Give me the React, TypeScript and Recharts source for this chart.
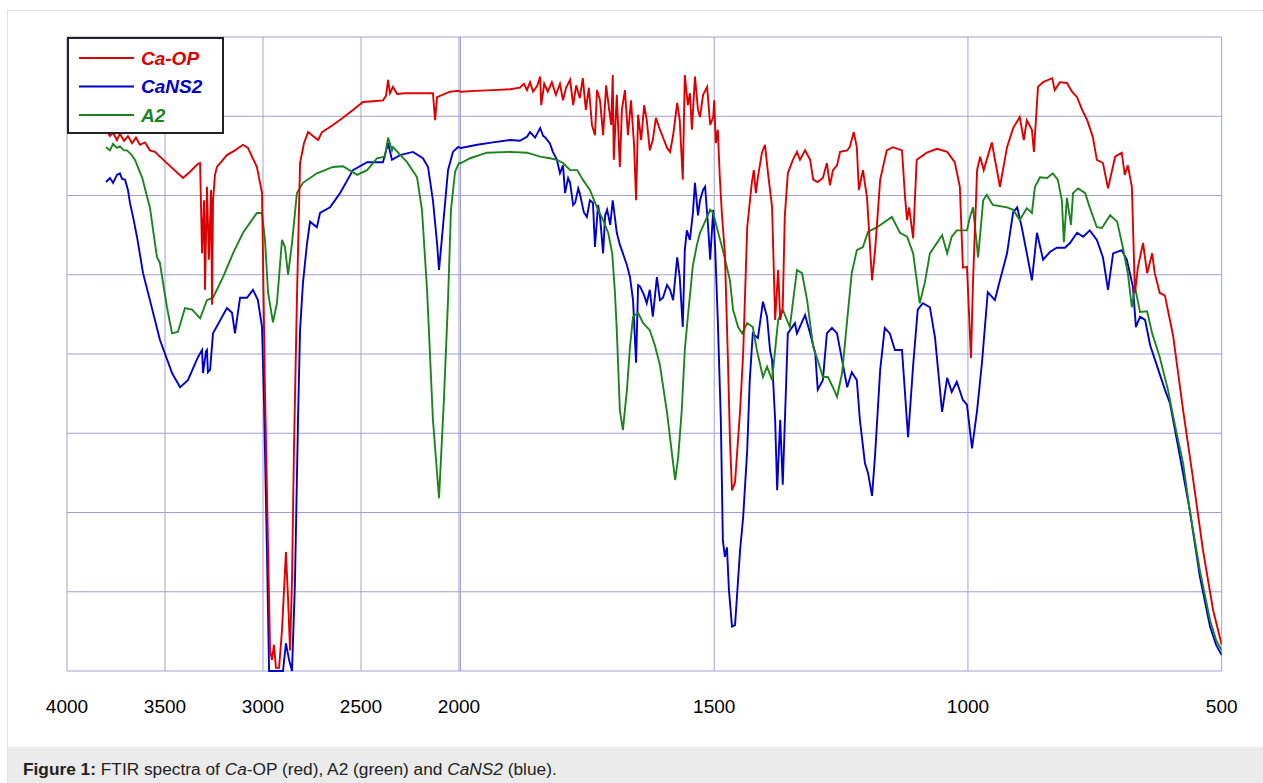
import {
  CartesianGrid,
  Legend,
  Line,
  LineChart,
  ReferenceLine,
  XAxis,
  YAxis,
} from "recharts";

// Ca-OP (red)
const caOpWave = [
  3801, 3781, 3765, 3745, 3730, 3709, 3689, 3668, 3648, 3628,
  3602, 3577, 3551, 3526, 3474, 3408, 3372, 3332, 3321, 3311,
  3301, 3296, 3286, 3276, 3265, 3260, 3255, 3245, 3235, 3184,
  3143, 3102, 3077, 3031, 3005, 2990, 2974, 2964, 2954, 2944,
  2934, 2918, 2903, 2883, 2872, 2862, 2852, 2842, 2827, 2811,
  2791, 2770, 2745, 2719, 2699, 2643, 2592, 2541, 2490, 2439,
  2388, 2372, 2362, 2352, 2337, 2316, 2276, 2199, 2133, 2122,
  2112, 2046, 2005,
  1999, 1971, 1936, 1902, 1883, 1875, 1869, 1863, 1857, 1849,
  1843, 1841, 1835, 1828, 1820, 1812, 1804, 1798, 1792, 1784,
  1778, 1772, 1765, 1759, 1753, 1747, 1741, 1735, 1731, 1725,
  1719, 1713, 1707, 1703, 1700, 1698, 1692, 1686, 1682, 1676,
  1670, 1664, 1658, 1654, 1650, 1644, 1638, 1633, 1627, 1621,
  1615, 1607, 1599, 1593, 1587, 1581, 1573, 1568, 1562, 1558,
  1552, 1548, 1544, 1538, 1532, 1528, 1522, 1514, 1508, 1502,
  1500, 1497, 1493, 1489, 1485, 1479, 1473, 1469, 1465, 1459,
  1449, 1443, 1435, 1426, 1422, 1418, 1414, 1406, 1400, 1394,
  1386, 1380, 1374, 1370, 1365, 1361, 1355, 1345, 1337, 1331,
  1321, 1311, 1305, 1296, 1286, 1278, 1272, 1266, 1258, 1252,
  1238, 1233, 1225, 1219, 1215, 1207, 1199, 1189, 1183, 1173,
  1160, 1148, 1130, 1124, 1120, 1116, 1108, 1101, 1081, 1061,
  1041, 1026, 1016, 1010, 1002, 994, 990, 982, 976, 969,
  953, 937, 923, 911, 898, 890, 884, 874, 870, 862,
  852, 834, 829, 819, 805, 795, 785, 775, 765, 754,
  746, 734, 724, 710, 697, 691, 685, 677, 671, 665,
  655, 647, 637, 632, 622, 612, 596, 576, 557, 537,
  517, 500,
];
const caOpT = [
  68.3, 67.5, 67.9, 67.0, 67.8, 66.9, 67.5, 66.6, 67.3, 66.4,
  66.7, 65.7, 65.5, 64.9, 63.7, 62.2, 63.0, 64.0, 64.1, 52.7,
  59.4, 48.1, 61.1, 51.9, 60.7, 46.2, 59.4, 62.6, 63.6, 65.1,
  65.7, 66.4, 66.0, 63.6, 60.3, 35.5, 15.3, 2.6, 1.4, 3.3,
  0.4, 0.4, 5.2, 15.0, 9.0, 2.6, 11.5, 27.9, 46.8, 64.1,
  66.6, 68.0, 67.5, 67.0, 68.0, 68.9, 69.8, 70.8, 71.8, 71.9,
  72.0, 72.6, 74.6, 72.9, 73.7, 72.8, 72.9, 72.9, 72.9, 69.5,
  72.4, 73.1, 73.2,
  73.1, 73.2, 73.3, 73.4, 73.6, 74.1, 73.3, 74.3, 73.1, 73.8,
  75.0, 71.4, 74.1, 73.1, 74.3, 72.7, 74.1, 72.0, 73.6, 74.6,
  71.4, 73.9, 72.3, 74.8, 70.8, 73.6, 68.9, 67.6, 73.3, 72.0,
  67.6, 73.9, 70.8, 68.9, 75.2, 64.5, 72.7, 63.6, 70.8, 73.3,
  67.6, 72.0, 66.4, 59.4, 70.2, 67.0, 71.4, 69.5, 65.7, 67.0,
  69.8, 68.3, 67.0, 66.0, 65.5, 67.6, 71.7, 69.5, 62.0, 75.2,
  71.4, 72.9, 68.3, 75.0, 70.8, 69.9, 72.7, 73.7, 68.9, 69.9,
  72.0, 66.6, 68.3, 62.3, 57.8, 52.7, 39.2, 29.1, 22.8, 23.8,
  32.9, 40.1, 56.0, 61.6, 63.2, 60.3, 62.3, 65.4, 66.4, 62.8,
  58.5, 44.3, 50.6, 44.3, 45.9, 57.3, 62.8, 64.5, 65.5, 64.5,
  65.7, 64.5, 62.0, 61.7, 62.2, 64.1, 61.3, 63.2, 63.8, 65.5,
  65.7, 66.1, 68.0, 66.1, 60.7, 63.2, 59.8, 49.3, 53.1, 62.0,
  65.7, 66.1, 65.7, 59.8, 56.9, 58.5, 54.6, 64.5, 65.4, 65.9,
  65.5, 64.2, 61.1, 50.9, 51.0, 39.5, 49.3, 63.2, 64.9, 63.2,
  66.7, 61.1, 66.1, 68.5, 69.9, 67.0, 69.5, 68.3, 65.5, 73.7,
  74.3, 74.8, 73.3, 74.3, 74.2, 73.1, 72.4, 70.8, 69.5, 67.4,
  64.5, 64.1, 60.9, 64.9, 65.4, 62.6, 63.8, 61.1, 47.7, 51.0,
  54.0, 50.2, 52.7, 50.2, 47.7, 47.4, 42.4, 32.9, 24.5, 15.3,
  7.7, 3.3,
];

// CaNS2 (blue)
const caNs2Wave = [
  3801, 3781, 3765, 3745, 3730, 3719, 3704, 3689, 3679, 3663,
  3643, 3612, 3577, 3526, 3464, 3423, 3383, 3332, 3311, 3306,
  3291, 3286, 3281, 3270, 3255, 3184, 3158, 3143, 3117, 3082,
  3051, 3026, 3005, 2995, 2980, 2969, 2898, 2883, 2867, 2852,
  2837, 2821, 2811, 2796, 2776, 2760, 2725, 2709, 2658, 2607,
  2541, 2469, 2388, 2362, 2342, 2301, 2235, 2184, 2158, 2133,
  2112, 2102, 2082, 2056, 2031, 2005,
  1999, 1967, 1936, 1902, 1883, 1869, 1863, 1853, 1843, 1837,
  1834, 1824, 1818, 1810, 1804, 1798, 1794, 1788, 1784, 1778,
  1774, 1768, 1765, 1757, 1751, 1745, 1739, 1735, 1729, 1725,
  1719, 1715, 1711, 1705, 1700, 1692, 1686, 1680, 1672, 1666,
  1660, 1654, 1650, 1646, 1638, 1633, 1627, 1621, 1613, 1607,
  1601, 1593, 1587, 1581, 1573, 1568, 1562, 1558, 1554, 1548,
  1542, 1538, 1532, 1528, 1522, 1518, 1512, 1508, 1502, 1498,
  1493, 1487, 1483, 1479, 1475, 1471, 1465, 1459, 1449, 1443,
  1435, 1430, 1424, 1414, 1404, 1396, 1390, 1386, 1380, 1376,
  1370, 1365, 1355, 1341, 1337, 1321, 1311, 1301, 1296, 1286,
  1278, 1268, 1258, 1248, 1238, 1229, 1219, 1213, 1203, 1197,
  1189, 1183, 1173, 1164, 1154, 1144, 1130, 1118, 1108, 1099,
  1089, 1075, 1065, 1051, 1041, 1032, 1022, 1010, 1002, 992,
  982, 972, 961, 947, 937, 923, 911, 903, 894, 884,
  874, 864, 852, 838, 825, 809, 799, 785, 773, 760,
  746, 734, 724, 714, 697, 687, 675, 669, 661, 651,
  641, 628, 612, 602, 582, 563, 543, 523, 511, 500,
];
const caNs2T = [
  61.7, 62.2, 61.6, 62.6, 62.8, 62.1, 62.0, 60.7, 59.1, 57.3,
  54.8, 50.2, 46.8, 41.8, 37.6, 35.8, 36.7, 39.6, 40.5, 37.6,
  40.3, 40.5, 37.7, 38.0, 42.6, 45.8, 45.2, 42.6, 47.1, 47.1,
  48.1, 46.8, 43.4, 34.2, 15.3, 0, 0, 3.5, 1.4, 0,
  11.1, 32.1, 43.0, 49.0, 53.8, 56.7, 56.0, 57.8, 58.5, 60.3,
  63.2, 64.2, 64.2, 66.6, 64.5, 65.1, 65.5, 64.7, 63.6, 59.4,
  54.0, 50.6, 56.0, 63.2, 65.5, 66.1,
  66.0, 66.4, 66.7, 67.0, 66.9, 67.4, 68.0, 67.3, 68.5, 67.5,
  67.4, 66.6, 65.5, 64.5, 62.8, 63.8, 60.3, 62.2, 61.6, 58.8,
  59.1, 60.9, 60.3, 57.9, 57.3, 59.4, 59.1, 53.5, 58.8, 57.3,
  52.7, 57.5, 58.2, 56.3, 59.4, 55.3, 53.8, 52.7, 51.2, 49.7,
  46.8, 38.9, 48.7, 48.5, 47.4, 46.4, 48.1, 44.7, 49.7, 46.8,
  47.1, 48.7, 48.1, 46.8, 52.2, 49.7, 43.4, 53.1, 55.6, 54.4,
  57.8, 61.6, 57.5, 59.4, 60.7, 61.1, 56.0, 51.9, 58.2, 53.1,
  44.3, 31.7, 16.5, 14.4, 15.6, 10.2, 5.6, 5.8, 15.3, 19.4,
  27.9, 36.7, 42.6, 42.0, 46.6, 44.7, 40.5, 39.2, 31.7, 22.8,
  31.7, 23.5, 42.6, 43.9, 42.6, 44.9, 42.6, 40.1, 35.5, 36.7,
  42.6, 43.3, 42.6, 39.2, 35.8, 37.7, 36.7, 31.7, 26.2, 25.0,
  22.1, 27.3, 38.0, 43.3, 42.6, 40.5, 40.5, 29.5, 38.6, 45.6,
  46.4, 45.9, 42.1, 32.7, 37.0, 35.2, 36.5, 34.2, 33.6, 28.1,
  32.9, 39.2, 47.8, 46.8, 49.3, 52.7, 57.9, 58.5, 56.0, 52.7,
  49.3, 55.3, 51.9, 52.9, 53.4, 53.4, 54.0, 55.3, 54.8, 55.6,
  54.4, 52.2, 48.1, 52.7, 53.1, 51.9, 48.5, 43.4, 44.7, 44.3,
  41.1, 38.6, 35.5, 33.8, 27.0, 20.3, 11.9, 5.6, 3.3, 2.0,
];

// A2 (green)
const a2Wave = [
  3801, 3781, 3765, 3745, 3730, 3709, 3694, 3673, 3653, 3617,
  3577, 3541, 3526, 3490, 3464, 3434, 3398, 3362, 3321, 3286,
  3255, 3204, 3153, 3102, 3031, 3005, 2990, 2974, 2949, 2929,
  2903, 2888, 2872, 2852, 2827, 2796, 2725, 2643, 2592, 2520,
  2469, 2418, 2378, 2362, 2342, 2337, 2265, 2214, 2189, 2163,
  2133, 2102, 2077, 2056, 2041, 2020, 2000,
  1999, 1981, 1948, 1902, 1869, 1843, 1824, 1810, 1798, 1784,
  1770, 1759, 1745, 1731, 1719, 1709, 1701, 1696, 1692, 1686,
  1680, 1672, 1666, 1660, 1650, 1640, 1627, 1617, 1607, 1593,
  1581, 1577, 1571, 1564, 1558, 1552, 1542, 1534, 1528, 1514,
  1508, 1502, 1495, 1483, 1469, 1463, 1453, 1445, 1435, 1424,
  1416, 1404, 1396, 1386, 1374, 1365, 1351, 1337, 1327, 1317,
  1305, 1296, 1286, 1276, 1266, 1258, 1248, 1238, 1229, 1219,
  1207, 1197, 1179, 1150, 1134, 1120, 1108, 1095, 1085, 1075,
  1051, 1041, 1032, 1022, 1010, 1002, 996, 990, 980, 970,
  963, 951, 923, 911, 898, 884, 874, 868, 858, 844,
  833, 823, 815, 811, 805, 797, 793, 783, 769, 760,
  746, 736, 720, 706, 695, 685, 677, 671, 661, 647,
  637, 622, 606, 592, 576, 563, 543, 523, 511, 500,
];
const a2T = [
  66.1, 65.7, 66.5, 66.0, 66.2, 65.7, 65.7, 65.2, 64.5, 62.3,
  58.5, 52.2, 51.5, 45.9, 42.6, 42.8, 45.8, 45.6, 44.5, 46.8,
  47.1, 49.7, 52.7, 55.3, 57.8, 57.8, 54.4, 47.7, 44.0, 46.4,
  54.4, 53.5, 50.0, 54.0, 60.3, 61.6, 62.8, 63.6, 63.7, 62.6,
  63.2, 64.7, 64.9, 67.3, 65.7, 66.1, 64.2, 62.3, 58.2, 48.1,
  31.7, 21.8, 34.2, 46.8, 58.2, 63.0, 64.1,
  64.1, 64.7, 65.4, 65.5, 65.4, 64.9, 64.7, 64.5, 64.1, 63.2,
  63.2, 62.0, 60.7, 58.5, 56.9, 55.3, 52.7, 48.1, 43.0, 32.9,
  30.4, 35.5, 40.9, 44.7, 45.2, 43.9, 43.0, 41.1, 38.6, 32.6,
  26.2, 24.1, 27.0, 32.9, 40.5, 44.7, 51.2, 53.8, 55.3, 57.3,
  58.2, 57.8, 56.0, 53.1, 49.3, 45.6, 43.4, 42.6, 43.9, 43.4,
  40.5, 37.1, 38.4, 36.7, 44.3, 45.6, 43.4, 50.6, 50.2, 46.8,
  40.9, 39.2, 37.1, 37.1, 35.8, 34.6, 37.6, 44.3, 50.2, 53.1,
  53.5, 55.4, 56.0, 57.3, 55.3, 54.8, 52.7, 46.4, 49.0, 52.7,
  55.0, 52.7, 54.8, 55.6, 55.6, 55.6, 57.3, 58.5, 52.2, 59.4,
  60.1, 58.8, 58.5, 58.2, 56.9, 58.4, 57.8, 61.1, 62.3, 62.2,
  62.8, 62.0, 59.4, 54.1, 59.7, 56.3, 60.3, 60.9, 60.3, 58.5,
  56.0, 55.9, 57.5, 56.7, 53.5, 50.2, 45.9, 48.5, 45.3, 45.4,
  42.6, 39.6, 35.5, 31.0, 26.2, 20.3, 12.7, 6.4, 3.9, 2.6,
];

const tickLabels = [4000, 3500, 3000, 2500, 2000, 1500, 1000, 500];
const gridValues = [0, 10, 20, 30, 40, 50, 60, 70, 80];

// the wavenumber axis has a break at 2000: 4000-2000 is squeezed, 2000-500 is stretched
const LEFT_SPAN = 392;
const GAP = 1.5;
const RIGHT_SPAN = 761.2;
const X_MAX = LEFT_SPAN + GAP + RIGHT_SPAN;

const toPos = (w: number, rightSide = false) =>
  w > 2000 || (w === 2000 && !rightSide)
    ? ((4000 - w) / 2000) * LEFT_SPAN
    : LEFT_SPAN + GAP + ((2000 - w) / 1500) * RIGHT_SPAN;

const build = (waves: number[], values: number[]) =>
  waves.map((w, i) => ({ x: toPos(w), t: values[i] }));

const FONT = "'Liberation Sans', Arial, Helvetica, sans-serif";

const series = [
  { name: "Ca-OP", color: "#dd0000", data: build(caOpWave, caOpT) },
  { name: "CaNS2", color: "#0000cc", data: build(caNs2Wave, caNs2T) },
  { name: "A2", color: "#1c841c", data: build(a2Wave, a2T) },
];

const tickPositions = tickLabels.map((w) => toPos(w));

const LegendBox = () => (
  <div
    style={{
      width: 157,
      height: 97,
      border: "2px solid #222",
      boxSizing: "border-box",
      background: "#fff",
    }}
  >
    <svg width={153} height={93} style={{ display: "block" }}>
      {series.map((s, i) => {
        const y = 19 + i * 28.5;
        return (
          <g key={s.name}>
            <line x1={10} x2={65} y1={y} y2={y} stroke={s.color} strokeWidth={1.8} />
            <text
              x={72}
              y={y}
              dy="0.36em"
              fill={s.color}
              fontSize={19}
              fontWeight="bold"
              fontStyle="italic"
              fontFamily={FONT}
            >
              {s.name}
            </text>
          </g>
        );
      })}
    </svg>
  </div>
);

const drawOrder = [series[1], series[2], series[0]];

export default function App() {
  return (
    <div
      style={{
        position: "absolute",
        left: 7,
        top: 10,
        width: 1256,
        height: 773,
        borderTop: "1px solid #e3e3e3",
        borderLeft: "1px solid #e3e3e3",
        boxSizing: "border-box",
        overflow: "hidden",
        background: "#fff",
        fontFamily: FONT,
      }}
    >
      <LineChart
        width={1240}
        height={730}
        margin={{ top: 26, right: 26.3, bottom: 10, left: 59 }}
      >
        <CartesianGrid stroke="#a0a0d6" strokeWidth={1} />
        <XAxis
          type="number"
          dataKey="x"
          domain={[0, X_MAX]}
          ticks={tickPositions}
          interval={0}
          allowDataOverflow
          axisLine={false}
          tickLine={false}
          tickMargin={23}
          height={60}
          tick={{ fontSize: 19, fill: "#000", fontFamily: FONT }}
          tickFormatter={(p: number) => {
            const i = tickPositions.findIndex((q) => Math.abs(q - p) < 0.01);
            return i >= 0 ? String(tickLabels[i]) : "";
          }}
        />
        <YAxis hide type="number" domain={[0, 80]} ticks={gridValues} />
        <ReferenceLine x={toPos(2000, true)} stroke="#a0a0d6" strokeWidth={1} />
        {drawOrder.map((s) => (
          <Line
            key={s.name}
            data={s.data}
            dataKey="t"
            name={s.name}
            type="linear"
            stroke={s.color}
            strokeWidth={1.9}
            dot={false}
            activeDot={false}
            isAnimationActive={false}
          />
        ))}
        <Legend
          layout="horizontal"
          verticalAlign="middle"
          align="center"
          content={<LegendBox />}
          wrapperStyle={{ left: 59, top: 26, width: 157, height: 97 }}
        />
      </LineChart>
      <div
        style={{
          position: "absolute",
          left: 0,
          top: 736,
          width: "100%",
          height: 40,
          background: "#ebebeb",
          boxSizing: "border-box",
          paddingLeft: 15,
          paddingTop: 12,
          fontSize: 17.3,
          color: "#222",
          whiteSpace: "nowrap",
        }}
      >
        <b>Figure 1:</b> FTIR spectra of <i>Ca</i>-OP (red), A2 (green) and{" "}
        <i>CaNS2</i> (blue).
      </div>
    </div>
  );
}
